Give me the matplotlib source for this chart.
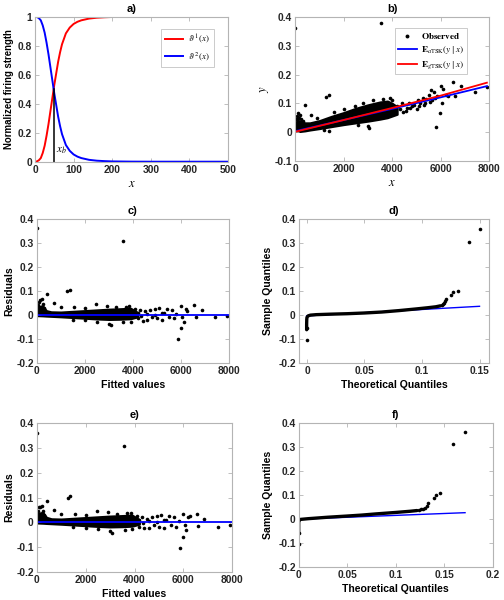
import matplotlib
matplotlib.use("Agg")
import matplotlib.pyplot as plt
from matplotlib.ticker import FuncFormatter
from matplotlib.lines import Line2D

plt.rcParams['font.family'] = ['Liberation Sans', 'DejaVu Sans']
plt.rcParams['mathtext.fontset'] = 'stix'
plt.rcParams['axes.unicode_minus'] = False

# ---------------- data ----------------
# a) normalized firing strengths
a_x = [0, 5, 10, 15, 20, 25, 30, 35, 40, 45, 50, 55, 60, 65, 70, 80, 90, 100,
       110, 120, 140, 160, 180, 200, 250, 300, 400, 500]
a_theta2 = [1.0, 0.998, 0.99, 0.975, 0.94, 0.89, 0.82, 0.74, 0.65, 0.56, 0.47,
            0.39, 0.31, 0.245, 0.19, 0.115, 0.075, 0.05, 0.035, 0.025, 0.013,
            0.007, 0.004, 0.002, 0.0005, 0.0001, 0.0, 0.0]
a_theta1 = [0.0, 0.002, 0.01, 0.025, 0.06, 0.11, 0.18, 0.26, 0.35, 0.44, 0.53,
            0.61, 0.69, 0.755, 0.81, 0.885, 0.925, 0.95, 0.965, 0.975, 0.987,
            0.993, 0.996, 0.998, 0.9995, 0.9999, 1.0, 1.0]
a_xb = 48

# b) observed data (dense band envelope + individual points) and fitted lines
b_band_x = [0, 200, 400, 600, 1000, 1500, 2000, 2500, 3000, 3500, 3800, 4000, 4200]
b_band_hi = [0.036, 0.038, 0.032, 0.032, 0.04, 0.055, 0.068, 0.083, 0.095, 0.105, 0.108, 0.1, 0.088]
b_band_lo = [0.002, 0.002, 0.004, 0.007, 0.012, 0.019, 0.026, 0.032, 0.038, 0.045, 0.05, 0.056, 0.062]
b_pts_x = [0, 3550, 1250, 1400, 400,
           40, 60, 100, 150, 200, 250, 300, 120,
           1400, 1200, 3000, 3050, 2600,
           650, 900, 1600, 2000, 2450, 2800, 3200, 3600, 3900, 4000,
           4100, 4200, 4300, 4400, 4450, 4600, 4700, 4800, 4900, 5000, 5050,
           5150, 5250, 5300, 5400, 5500, 5550, 5600, 5700, 5750, 5850, 5800,
           5980, 6050, 6100, 6000, 6200, 6300, 6500, 6600, 6850, 7400, 7900,
           4550, 4750, 5100, 5350, 5650]
b_pts_y = [0.362, 0.38, 0.122, 0.13, 0.093,
           0.045, 0.055, 0.065, 0.05, 0.06, 0.045, 0.04, 0.045,
           0.005, 0.008, 0.02, 0.015, 0.025,
           0.06, 0.05, 0.07, 0.08, 0.09, 0.1, 0.11, 0.115, 0.12, 0.11,
           0.075, 0.09, 0.08, 0.1, 0.07, 0.085, 0.1, 0.09, 0.095, 0.08, 0.11,
           0.1, 0.12, 0.095, 0.115, 0.13, 0.105, 0.145, 0.14, 0.12, 0.125, 0.018,
           0.065, 0.1, 0.15, 0.16, 0.13, 0.125, 0.175, 0.125, 0.16, 0.14, 0.158,
           0.075, 0.085, 0.09, 0.1, 0.11]
b_fit_x = [0, 2000, 4000, 6000, 7900]
b_atsk = [0.003, 0.042, 0.081, 0.121, 0.160]
b_gtsk = [0.001, 0.042, 0.084, 0.127, 0.172]

# c) residuals vs fitted values (aTSK)
c_band_x = [0, 250, 400, 600, 1000, 1500, 2000, 2500, 3000, 3500, 3900, 4200]
c_band_hi = [0.033, 0.038, 0.018, 0.013, 0.012, 0.015, 0.018, 0.021, 0.024, 0.026, 0.028, 0.01]
c_band_lo = [-0.003, -0.004, -0.005, -0.006, -0.008, -0.011, -0.014, -0.017, -0.019, -0.018, -0.016, -0.008]
c_pts_x = [0, 3570, 1250, 1370, 420, 700,
           40, 80, 120, 200, 250, 160, 300,
           1000, 1550, 2000, 2450, 2900, 3300, 3850, 3700,
           1500, 2000, 2500, 3000, 3100, 3600, 3900,
           4100, 4200, 4300, 4400, 4500, 4600, 4700, 4800, 4900, 5000, 5100,
           5200, 5300, 5400, 5500, 5600, 5700, 5850, 6000, 6100, 6050, 6000,
           6200, 6250, 6550, 6600, 6850, 7400, 7900, 5800, 4200, 4350, 4600,
           4900, 5200]
c_pts_y = [0.362, 0.31, 0.1, 0.105, 0.087, 0.048,
           0.04, 0.055, 0.062, 0.065, 0.045, 0.035, 0.03,
           0.032, 0.035, 0.03, 0.045, 0.038, 0.035, 0.038, 0.035,
           -0.02, -0.022, -0.028, -0.038, -0.043, -0.03, -0.03,
           0.025, -0.015, 0.02, -0.025, 0.015, -0.02, 0.02, -0.01, 0.025, -0.015, 0.03,
           -0.02, 0.01, 0.025, -0.01, 0.02, -0.015, -0.1, -0.056, -0.03, -0.01, 0.036,
           0.025, 0.018, 0.04, -0.01, 0.02, -0.01, -0.003, 0.005, 0.01, -0.005, 0.005,
           0.0, 0.01]

# d) QQ plot of aTSK residuals
d_curve_x = [-0.0003, -0.0003, -0.0002, 0.0, 0.001, 0.003, 0.008, 0.02, 0.035,
             0.05, 0.065, 0.08, 0.095, 0.105, 0.112, 0.116]
d_curve_y = [-0.062, -0.04, -0.02, -0.01, -0.004, -0.001, 0.001, 0.003, 0.005,
             0.008, 0.012, 0.018, 0.025, 0.03, 0.034, 0.038]
d_tail_x = [-0.0004, -0.0003, 0.117, 0.118, 0.119, 0.12, 0.121, 0.125, 0.127, 0.131, 0.141, 0.150]
d_tail_y = [-0.105, -0.055, 0.04, 0.045, 0.05, 0.058, 0.065, 0.085, 0.096, 0.102, 0.307, 0.360]
d_ref_x = [-0.0003, 0.150]
d_ref_y = [-0.004, 0.036]

# e) residuals vs fitted values (gTSK)
e_band_x = [0, 250, 400, 600, 1000, 1500, 2000, 2500, 3000, 3500, 3900, 4200]
e_band_hi = [0.035, 0.04, 0.02, 0.014, 0.013, 0.016, 0.019, 0.022, 0.025, 0.027, 0.029, 0.011]
e_band_lo = [-0.003, -0.004, -0.005, -0.006, -0.008, -0.011, -0.014, -0.017, -0.019, -0.018, -0.016, -0.008]
e_pts_x = [0, 3570, 1270, 1370, 420, 700,
           40, 80, 120, 200, 250, 160, 300,
           1000, 1550, 2000, 2450, 2900, 3300, 3850, 3700,
           1500, 2000, 2500, 3000, 3100, 3600, 3900,
           4100, 4200, 4300, 4400, 4500, 4600, 4700, 4800, 4900, 5000, 5100,
           5200, 5300, 5400, 5500, 5600, 5700, 5850, 5980, 6100, 6050, 6000,
           6200, 6250, 6550, 6600, 6850, 7400, 7900, 5800, 4200, 4350, 4600,
           4900, 5200]
e_pts_y = [0.362, 0.31, 0.1, 0.106, 0.087, 0.048,
           0.045, 0.06, 0.062, 0.065, 0.045, 0.035, 0.03,
           0.033, 0.035, 0.03, 0.045, 0.04, 0.035, 0.038, 0.036,
           -0.02, -0.022, -0.028, -0.036, -0.042, -0.03, -0.028,
           0.025, -0.018, 0.02, -0.025, 0.015, -0.022, 0.02, -0.012, 0.025, -0.018, 0.03,
           -0.022, 0.01, 0.025, -0.012, 0.02, -0.018, -0.103, -0.06, -0.03, -0.012, 0.035,
           0.02, 0.025, 0.035, -0.017, 0.013, -0.018, -0.01, 0.003, 0.01, -0.005, 0.005,
           0.0, 0.01]

# f) QQ plot of gTSK residuals
f_curve_x = [0, 0, 0, 0.0005, 0.002, 0.01, 0.03, 0.05, 0.065, 0.08, 0.1, 0.115, 0.122]
f_curve_y = [-0.063, -0.04, -0.015, -0.004, -0.002, 0.001, 0.007, 0.012, 0.016, 0.021, 0.027, 0.032, 0.035]
f_tail_x = [0, 0, 0.124, 0.126, 0.128, 0.13, 0.132, 0.133, 0.139, 0.142, 0.146, 0.159, 0.171]
f_tail_y = [-0.106, -0.06, 0.038, 0.04, 0.043, 0.047, 0.055, 0.065, 0.086, 0.1, 0.107, 0.312, 0.363]
f_ref_x = [0, 0.1715]
f_ref_y = [-0.001, 0.026]

# ---------------- figure ----------------
W, H = 504, 600
fig = plt.figure(figsize=(W / 100, H / 100), dpi=100)


def box(l, r, t, b):
    return [l / W, 1 - b / H, (r - l) / W, (b - t) / H]


GRAY = '#b4b4b4'
TICK_FS = 7.4
LAB_FS = 7.6


def fmt(v, pos):
    return '%g' % round(v, 6)


def style(ax, title):
    for s in ax.spines.values():
        s.set_color(GRAY)
        s.set_linewidth(0.8)
    ax.tick_params(direction='in', top=True, right=True, length=3, width=0.6,
                   color=GRAY, labelsize=TICK_FS, pad=2.2)
    for lbl in ax.get_xticklabels() + ax.get_yticklabels():
        lbl.set_fontweight('bold')
        lbl.set_color('#262626')
    ax.xaxis.set_major_formatter(FuncFormatter(fmt))
    ax.yaxis.set_major_formatter(FuncFormatter(fmt))
    ax.set_title(title, fontsize=8, fontweight='bold', pad=3.5)


MS = 2.6

# ---- a ----
ax = fig.add_axes(box(35, 228, 16.7, 161.7))
ax.plot(a_x, a_theta1, color='#ff0000', lw=1.4, label=r'$\vartheta^{\,1}(x)$')
ax.plot(a_x, a_theta2, color='#0000ff', lw=1.4, label=r'$\vartheta^{\,2}(x)$')
ax.plot([a_xb, a_xb], [0, 0.5], color='black', lw=1.1)
ax.text(a_xb + 6, 0.06, r'$x_b$', fontsize=8)
ax.set_xlim(0, 500)
ax.set_ylim(0, 1)
ax.set_xticks([0, 100, 200, 300, 400, 500])
ax.set_yticks([0, 0.2, 0.4, 0.6, 0.8, 1])
ax.set_xlabel(r'$x$', fontsize=9, labelpad=2)
ax.set_ylabel('Normalized firing strength', fontsize=6.9, fontweight='bold', labelpad=3)
leg = ax.legend(loc='upper right', bbox_to_anchor=(0.95, 0.945), fontsize=6.5,
                frameon=True, fancybox=False, edgecolor=GRAY, handlelength=1.9,
                handletextpad=0.6, borderpad=0.45, labelspacing=0.45)
leg.get_frame().set_linewidth(0.6)
style(ax, 'a)')

# ---- b ----
ax = fig.add_axes(box(295.3, 489.3, 17.3, 160.7))
ax.fill_between(b_band_x, b_band_lo, b_band_hi, color='black', lw=1.5, edgecolor='black')
ax.plot(b_pts_x, b_pts_y, 'o', color='black', ms=MS, mew=0)
ax.plot(b_fit_x, b_atsk, color='#0000ff', lw=1.3)
ax.plot(b_fit_x, b_gtsk, color='#ff0000', lw=1.3)
ax.set_xlim(0, 8000)
ax.set_ylim(-0.1, 0.4)
ax.set_xticks([0, 2000, 4000, 6000, 8000])
ax.set_yticks([-0.1, 0, 0.1, 0.2, 0.3, 0.4])
ax.set_xlabel(r'$x$', fontsize=9, labelpad=2)
ax.set_ylabel(r'$y$', fontsize=9, labelpad=3)
handles = [Line2D([], [], marker='o', color='black', ls='none', ms=2.8, mew=0),
           Line2D([], [], color='#0000ff', lw=1.3),
           Line2D([], [], color='#ff0000', lw=1.3)]
labels = [r'$\mathbf{Observed}$', r'$\mathbf{E}_{a\mathrm{TSK}}(y\mid x)$',
          r'$\mathbf{E}_{g\mathrm{TSK}}(y\mid x)$']
leg = ax.legend(handles, labels, loc='upper right', bbox_to_anchor=(0.91, 0.96),
                fontsize=6.6, frameon=True, fancybox=False, edgecolor=GRAY,
                handlelength=2.0, handletextpad=0.5, borderpad=0.35, labelspacing=0.35)
leg.get_frame().set_linewidth(0.6)
style(ax, 'b)')

# ---- c ----
ax = fig.add_axes(box(36.7, 229.3, 219.3, 362.7))
ax.fill_between(c_band_x, c_band_lo, c_band_hi, color='black', lw=1.5, edgecolor='black')
ax.plot(c_pts_x, c_pts_y, 'o', color='black', ms=MS, mew=0)
ax.axhline(0, color='#0000ff', lw=1.3)
ax.set_xlim(0, 8000)
ax.set_ylim(-0.2, 0.4)
ax.set_xticks([0, 2000, 4000, 6000, 8000])
ax.set_yticks([-0.2, -0.1, 0, 0.1, 0.2, 0.3, 0.4])
ax.set_xlabel('Fitted values', fontsize=LAB_FS, fontweight='bold', labelpad=3)
ax.set_ylabel('Residuals', fontsize=LAB_FS, fontweight='bold', labelpad=1.5)
style(ax, 'c)')

# ---- d ----
ax = fig.add_axes(box(298.7, 489.3, 219.3, 362.7))
ax.plot(d_ref_x, d_ref_y, color='#0000ff', lw=1.0)
ax.plot(d_curve_x, d_curve_y, color='black', lw=2.4, solid_capstyle='round')
ax.plot(d_tail_x, d_tail_y, 'o', color='black', ms=MS, mew=0)
ax.set_xlim(-0.0072, 0.1585)
ax.set_ylim(-0.2, 0.4)
ax.set_xticks([0, 0.05, 0.1, 0.15])
ax.set_yticks([-0.2, -0.1, 0, 0.1, 0.2, 0.3, 0.4])
ax.set_xlabel('Theoretical Quantiles', fontsize=LAB_FS, fontweight='bold', labelpad=3)
ax.set_ylabel('Sample Quantiles', fontsize=LAB_FS, fontweight='bold', labelpad=4)
style(ax, 'd)')

# ---- e ----
ax = fig.add_axes(box(36.7, 232.3, 423.3, 571.7))
ax.fill_between(e_band_x, e_band_lo, e_band_hi, color='black', lw=1.5, edgecolor='black')
ax.plot(e_pts_x, e_pts_y, 'o', color='black', ms=MS, mew=0)
ax.axhline(0, color='#0000ff', lw=1.3)
ax.set_xlim(0, 8000)
ax.set_ylim(-0.2, 0.4)
ax.set_xticks([0, 2000, 4000, 6000, 8000])
ax.set_yticks([-0.2, -0.1, 0, 0.1, 0.2, 0.3, 0.4])
ax.set_xlabel('Fitted values', fontsize=LAB_FS, fontweight='bold', labelpad=3)
ax.set_ylabel('Residuals', fontsize=LAB_FS, fontweight='bold', labelpad=1.5)
style(ax, 'e)')

# ---- f ----
ax = fig.add_axes(box(298.7, 492.7, 423.3, 566.7))
ax.plot(f_ref_x, f_ref_y, color='#0000ff', lw=1.0)
ax.plot(f_curve_x, f_curve_y, color='black', lw=2.4, solid_capstyle='round')
ax.plot(f_tail_x, f_tail_y, 'o', color='black', ms=MS, mew=0)
ax.set_xlim(0, 0.2)
ax.set_ylim(-0.2, 0.4)
ax.set_xticks([0, 0.05, 0.1, 0.15, 0.2])
ax.set_yticks([-0.2, -0.1, 0, 0.1, 0.2, 0.3, 0.4])
ax.set_xlabel('Theoretical Quantiles', fontsize=LAB_FS, fontweight='bold', labelpad=3)
ax.set_ylabel('Sample Quantiles', fontsize=LAB_FS, fontweight='bold', labelpad=4)
style(ax, 'f)')

fig.savefig('out.png', dpi=100, facecolor='white')
